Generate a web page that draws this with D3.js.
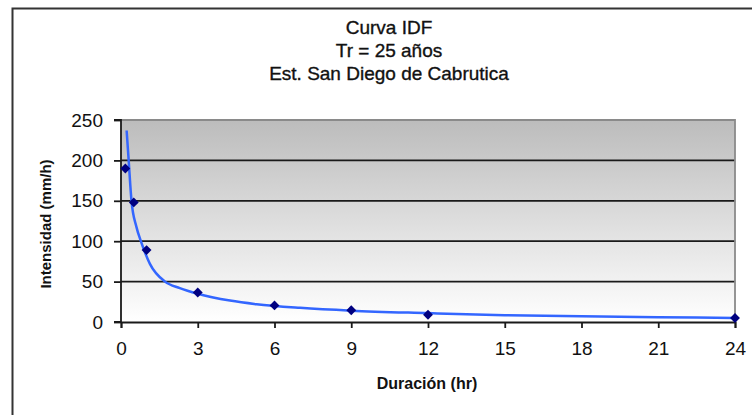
<!DOCTYPE html>
<html><head><meta charset="utf-8">
<script src="https://cdn.jsdelivr.net/npm/d3@7"></script>
<style>body{margin:0;background:#fff}svg{display:block}</style>
</head><body>
<svg id="c" width="752" height="415"></svg>
<script>
const titleLines = ["Curva IDF", "Tr = 25 años", "Est. San Diego de Cabrutica"];
const xLabel = "Duración (hr)";
const yLabel = "Intensidad (mm/h)";
const xTicks = [0, 3, 6, 9, 12, 15, 18, 21, 24];
const yTicks = [0, 50, 100, 150, 200, 250];
// observed points
const durations = [0.17, 0.5, 1, 3, 6, 9, 12, 24];
const intensities = [190, 148, 89, 36.5, 20.5, 14.5, 9, 5];
// trend curve
const curveX = [0.22, 0.3, 0.41, 0.6, 0.8, 1.13, 1.72, 2.3, 3, 4.26, 5.3, 7, 9, 12, 15, 18, 21, 24];
const curveY = [237, 200, 150, 118, 98, 72, 50, 42, 35, 26.5, 22, 17.5, 14, 11, 8.5, 7, 6, 5];

const svg = d3.select("#c");
const m = {l: 121, r: 735, t: 120, b: 322};
const x = d3.scaleLinear().domain([0, 24]).range([m.l, m.r]);
const y = d3.scaleLinear().domain([0, 250]).range([m.b, m.t]);

// outer chart border
svg.append("rect").attr("x", 12.5).attr("y", 8.5).attr("width", 800).attr("height", 500)
  .attr("fill", "#fff").attr("stroke", "#333").attr("stroke-width", 2);

const defs = svg.append("defs");
const g = defs.append("linearGradient").attr("id", "bg").attr("x1", 0).attr("y1", 0).attr("x2", 0).attr("y2", 1);
g.append("stop").attr("offset", "0%").attr("stop-color", "#bcbcbc");
g.append("stop").attr("offset", "100%").attr("stop-color", "#ffffff");

svg.append("rect").attr("x", m.l).attr("y", m.t).attr("width", m.r - m.l).attr("height", m.b - m.t)
  .attr("fill", "url(#bg)");

// gridlines
svg.append("g").selectAll("line").data(yTicks.filter(d => d > 0 && d < 250)).join("line")
  .attr("x1", m.l).attr("x2", m.r).attr("y1", d => y(d)).attr("y2", d => y(d))
  .attr("stroke", "#1a1a1a").attr("stroke-width", 1.8);
// plot border top/right
svg.append("path").attr("d", `M${m.l},${m.t}H${m.r}V${m.b}`).attr("fill", "none")
  .attr("stroke", "#8a8a8a").attr("stroke-width", 1.8);

// axes
const ya = svg.append("g").attr("transform", `translate(${m.l},0)`)
  .call(d3.axisLeft(y).tickValues(yTicks).tickSize(7).tickPadding(11));
const xa = svg.append("g").attr("transform", `translate(0,${m.b})`)
  .call(d3.axisBottom(x).tickValues(xTicks).tickSize(6).tickPadding(14));
[ya, xa].forEach(a => {
  a.select(".domain").attr("stroke", "#1a1a1a").attr("stroke-width", 1.8);
  a.selectAll(".tick line").attr("stroke", "#1a1a1a").attr("stroke-width", 1.8);
  a.selectAll("text").attr("font-family", "Liberation Sans, Arial, sans-serif")
    .attr("font-size", 19).attr("fill", "#111");
});
ya.select(".domain").attr("d", `M-7,${m.t}H0V${m.b}H-7`);

// trend curve
const pts = curveX.map((d, i) => [d, curveY[i]]);
svg.append("path").datum(pts)
  .attr("d", d3.line().x(d => x(d[0])).y(d => y(d[1])).curve(d3.curveMonotoneX))
  .attr("fill", "none").attr("stroke", "#3366ff").attr("stroke-width", 2.5);

// markers
svg.append("g").selectAll("path").data(durations.map((d, i) => [d, intensities[i]])).join("path")
  .attr("transform", d => `translate(${x(d[0])},${y(d[1])})`)
  .attr("d", d3.symbol().type(d3.symbolDiamond2).size(62))
  .attr("fill", "#000080");

// titles
svg.append("g").selectAll("text").data(titleLines).join("text")
  .attr("x", 389).attr("y", (d, i) => 34 + i * 23)
  .attr("text-anchor", "middle")
  .attr("font-family", "Liberation Sans Narrow, Arial Narrow, sans-serif")
  .attr("font-size", 19).attr("fill", "#111")
  .attr("stroke", "#111").attr("stroke-width", 0.35).text(d => d);

svg.append("text").attr("x", 427).attr("y", 389).attr("text-anchor", "middle")
  .attr("font-family", "Liberation Sans, Arial, sans-serif").attr("font-weight", "bold")
  .attr("font-size", 16).attr("fill", "#111").text(xLabel);
svg.append("text").attr("transform", "translate(51,224) rotate(-90)").attr("text-anchor", "middle")
  .attr("font-family", "Liberation Sans, Arial, sans-serif").attr("font-weight", "bold")
  .attr("font-size", 15).attr("fill", "#111").text(yLabel);
</script>
</body></html>
